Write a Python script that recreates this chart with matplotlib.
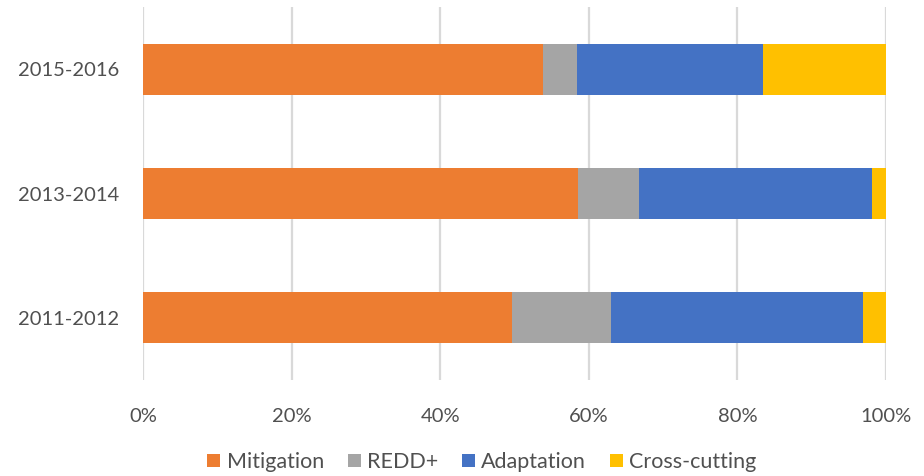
import matplotlib.pyplot as plt
from matplotlib.ticker import FuncFormatter

periods = ["2011-2012", "2013-2014", "2015-2016"]
mitigation = [49.6, 58.5, 53.9]
redd = [13.4, 8.3, 4.5]
adaptation = [33.9, 31.3, 25.0]
cross_cutting = [3.1, 1.9, 16.6]

series = [
    ("Mitigation", mitigation, "#ED7D31"),
    ("REDD+", redd, "#A5A5A5"),
    ("Adaptation", adaptation, "#4472C4"),
    ("Cross-cutting", cross_cutting, "#FFC000"),
]

plt.rcParams["font.family"] = ["Lato", "DejaVu Sans"]
text_color = "#505050"

fig = plt.figure(figsize=(9.24, 4.76), dpi=100)
ax = fig.add_axes([143 / 924, 1 - 380 / 476, (886 - 143) / 924, (380 - 7) / 476])

left = [0.0] * len(periods)
for name, vals, color in series:
    ax.barh(periods, vals, left=left, height=0.41, color=color, label=name, zorder=3)
    left = [a + b for a, b in zip(left, vals)]

ax.set_xlim(0, 100)
ax.set_ylim(-0.5, 2.5)
ax.set_xticks(range(0, 101, 20))
ax.xaxis.set_major_formatter(FuncFormatter(lambda v, _: f"{int(v)}%"))
ax.grid(axis="x", color="#D9D9D9", linewidth=1.6, zorder=0)
for s in ax.spines.values():
    s.set_visible(False)
ax.tick_params(axis="both", length=0, labelsize=14.5, colors=text_color)
ax.tick_params(axis="x", pad=20)
ax.tick_params(axis="y", pad=17)

handles, labels = ax.get_legend_handles_labels()
fig.legend(handles, labels, loc="center", bbox_to_anchor=(482 / 924, 1 - 462 / 476),
           ncol=4, frameon=False, fontsize=15.5, handlelength=0.6, handleheight=0.6,
           handletextpad=0.3, columnspacing=1.1, labelcolor=text_color)

fig.savefig("out.png", dpi=100)
